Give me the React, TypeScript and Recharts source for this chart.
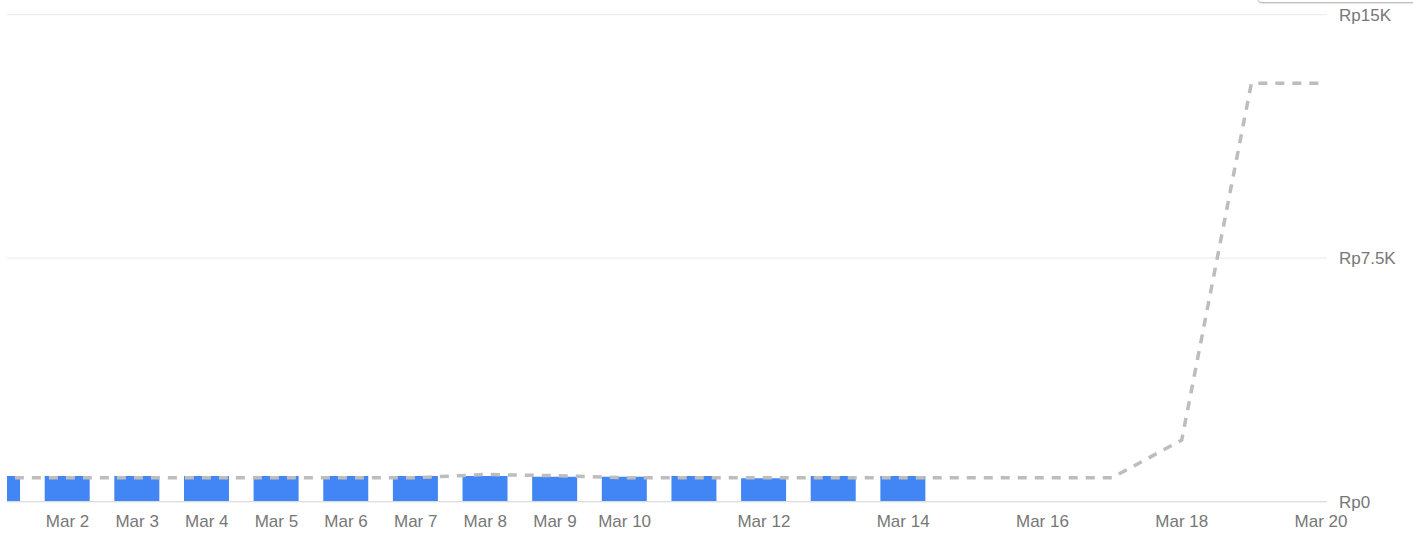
import React from "react";
import { ComposedChart, Bar, Line, XAxis, YAxis, CartesianGrid } from "recharts";

const days = [1, 2, 3, 4, 5, 6, 7, 8, 9, 10, 11, 12, 13, 14, 15, 16, 17, 18, 19, 20];
const barValues: (number | null)[] = [792, 792, 792, 792, 792, 792, 792, 792, 770, 770, 792, 721, 792, 792, null, null, null, null, null, null];
const lineValues = [739, 739, 739, 739, 739, 739, 739, 838, 801, 739, 739, 739, 739, 739, 739, 739, 739, 1900, 12890, 12890];
const xTicks = [2, 3, 4, 5, 6, 7, 8, 9, 10, 12, 14, 16, 18, 20];
const yTicks = [0, 7500, 15000];
const yTickLabels: Record<number, string> = { 0: "Rp0", 7500: "Rp7.5K", 15000: "Rp15K" };
const monthLabel = "Mar";

const data = days.map((d, i) => ({ day: d, bar: barValues[i], line: lineValues[i] }));

const tickStyle = { fill: "#777777", fontSize: 17, fontFamily: "Arial, 'Liberation Sans', sans-serif" };

export default function App() {
  return (
    <div style={{ position: "absolute", left: 0, top: 0, width: 1413, height: 533, background: "#fff", overflow: "hidden" }}>
      <div
        style={{
          position: "absolute",
          left: 1258,
          top: -30,
          width: 170,
          height: 32,
          background: "#fff",
          borderRadius: 4,
          boxShadow: "0 1px 2px rgba(0,0,0,0.35)",
          zIndex: 2,
        }}
      />
      <ComposedChart
        width={1413}
        height={533}
        data={data}
        margin={{ top: 14.7, right: 0, bottom: 0, left: 7 }}
      >
        <CartesianGrid horizontal vertical={false} stroke="#eeeeee" strokeWidth={1.3} />
        <XAxis
          dataKey="day"
          type="number"
          domain={[1.131, 20.086]}
          allowDataOverflow
          ticks={xTicks}
          interval={0}
          tickFormatter={(v: number) => `${monthLabel} ${v}`}
          tick={tickStyle}
          tickLine={false}
          tickSize={0}
          tickMargin={13}
          axisLine={{ stroke: "#dddddd", strokeWidth: 1.3 }}
          height={31.3}
        />
        <YAxis
          orientation="right"
          type="number"
          domain={[0, 15000]}
          ticks={yTicks}
          tickFormatter={(v: number) => yTickLabels[v] ?? String(v)}
          tick={{ ...tickStyle, textAnchor: "start" }}
          tickLine={false}
          axisLine={false}
          tickSize={0}
          tickMargin={12}
          width={86}
        />
        <Bar dataKey="bar" fill="#4285f4" barSize={45} isAnimationActive={false} />
        <Line
          dataKey="line"
          type="linear"
          stroke="#bdbdbd"
          strokeWidth={3.5}
          strokeDasharray="9 8"
          dot={false}
          activeDot={false}
          isAnimationActive={false}
        />
      </ComposedChart>
    </div>
  );
}
